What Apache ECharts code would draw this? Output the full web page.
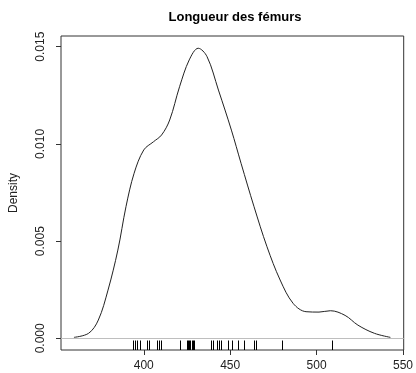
<!DOCTYPE html>
<html>
<head>
<meta charset="utf-8">
<script src="https://cdn.jsdelivr.net/npm/echarts@6/dist/echarts.min.js"></script>
<style>
html,body{margin:0;padding:0;background:#fff;}
#chart{width:416px;height:373px;}
</style>
</head>
<body>
<div id="chart"></div>
<script>
// Density curve points
const densityX = [359.6, 368.1, 373.7, 379.3, 385.0, 389.7, 394.4, 400.0, 405.6, 410.3, 415.0, 420.7, 426.3, 431.5, 436.6, 443.2, 450.7, 456.3, 463.8, 471.3, 478.9, 486.4, 493.9, 501.4, 508.0, 516.5, 523.9, 533.4, 542.7];
const densityY = [0.00005, 0.00026, 0.00094, 0.00248, 0.00454, 0.00677, 0.00849, 0.00969, 0.01011, 0.01046, 0.01123, 0.01294, 0.01432, 0.01492, 0.01449, 0.01277, 0.01071, 0.00900, 0.00677, 0.00471, 0.00300, 0.00180, 0.00137, 0.00135, 0.00142, 0.00118, 0.00068, 0.00026, 0.00005];
// Rug (individual observations)
const rugValues = [393.6, 395.0, 396.2, 398.0, 402.0, 403.0, 407.5, 408.6, 410.0, 421.0, 425.0, 425.5, 426.3, 427.0, 427.8, 428.6, 429.3, 439.0, 440.0, 442.6, 443.5, 444.7, 449.0, 451.3, 454.5, 458.0, 463.8, 464.8, 480.0, 509.0];
const xTicks = [400, 450, 500, 550];
const yTicks = [0, 0.005, 0.010, 0.015];
const titleText = 'Longueur des fémurs';
const yName = 'Density';

const chart = echarts.init(document.getElementById('chart'), null, {renderer: 'canvas'});
const FONT = 'Liberation Sans, Arial, sans-serif';
const option = {
  animation: false,
  backgroundColor: '#fff',
  title: {
    text: titleText,
    left: 230, top: 6,
    textAlign: 'center',
    textStyle: {fontFamily: FONT, fontSize: 13, fontWeight: 'bold', color: '#000'}
  },
  grid: {
    left: 55, right: 10, top: 36, bottom: 23,
    show: true, borderColor: '#333', borderWidth: 1, backgroundColor: 'transparent'
  },
  xAxis: {
    type: 'value', min: 352.1, max: 550.4,
    splitLine: {show: false},
    axisLine: {show: false, onZero: false},
    axisTick: {show: true, inside: false, length: 5, customValues: xTicks, lineStyle: {color: '#333'}},
    axisLabel: {customValues: xTicks, margin: 10, fontFamily: FONT, fontSize: 12, color: '#222'}
  },
  yAxis: {
    type: 'value', min: -0.0006, max: 0.01555,
    name: yName, nameLocation: 'middle', nameGap: 41, nameRotate: 90,
    nameTextStyle: {fontFamily: FONT, fontSize: 12, color: '#222'},
    splitLine: {show: false},
    axisLine: {show: false, onZero: false},
    axisTick: {show: true, inside: false, length: 5, customValues: yTicks, lineStyle: {color: '#333'}},
    axisLabel: {customValues: yTicks, rotate: 90, margin: 14, fontFamily: FONT, fontSize: 12, color: '#222',
      formatter: v => v.toFixed(3)}
  },
  series: [
    {
      type: 'line',
      data: densityX.map((x, i) => [x, densityY[i]]),
      smooth: 0.35,
      symbol: 'none',
      lineStyle: {color: '#222', width: 1},
      markLine: {
        silent: true, symbol: 'none', label: {show: false},
        lineStyle: {color: '#bebebe', width: 1, type: 'solid'},
        data: [{yAxis: 0}]
      },
      z: 3
    },
    {
      type: 'custom',
      data: rugValues.map(v => [v]),
      renderItem: function (params, api) {
        const p = api.coord([api.value(0), -0.0006]);
        const x = Math.round(p[0]) + 0.5;
        return {
          type: 'line',
          shape: {x1: x, y1: p[1], x2: x, y2: p[1] - 9.5},
          style: {stroke: '#000', lineWidth: 1}
        };
      },
      z: 4
    }
  ]
};
chart.setOption(option);
</script>
</body>
</html>
